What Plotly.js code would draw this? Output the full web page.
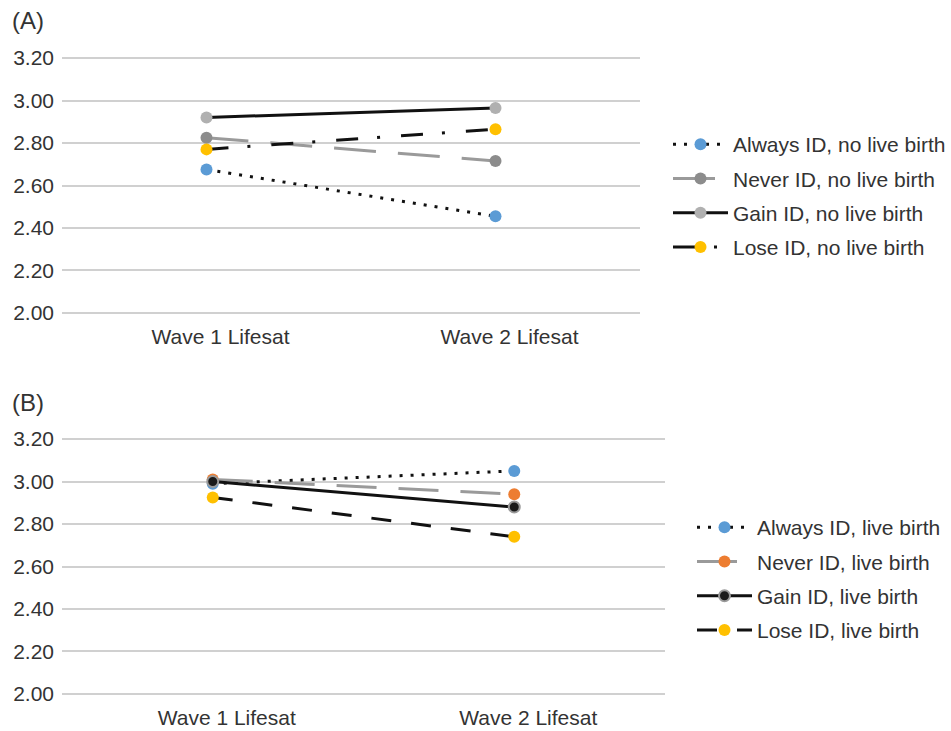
<!DOCTYPE html>
<html>
<head>
<meta charset="utf-8">
<script src="https://cdn.plot.ly/plotly-3.0.1.min.js"></script>
<style>html,body{margin:0;padding:0;background:#fff;}#chart{width:951px;height:731px;}</style>
</head>
<body>
<div id="chart"></div>
<script>
// ---- data ----
var waves = ["Wave 1 Lifesat", "Wave 2 Lifesat"];
var yTicks = [2.00, 2.20, 2.40, 2.60, 2.80, 3.00, 3.20];
var yTickLabels = ["2.00", "2.20", "2.40", "2.60", "2.80", "3.00", "3.20"];

var namesA = ["Always ID, no live birth", "Never ID, no live birth", "Gain ID, no live birth", "Lose ID, no live birth"];
var alwaysA = [2.675, 2.455];
var neverA  = [2.825, 2.715];
var gainA   = [2.92, 2.965];
var loseA   = [2.77, 2.865];

var namesB = ["Always ID, live birth", "Never ID, live birth", "Gain ID, live birth", "Lose ID, live birth"];
var alwaysB = [2.99, 3.05];
var neverB  = [3.01, 2.94];
var gainB   = [3.00, 2.88];
var loseB   = [2.925, 2.74];

// ---- styles ----
var W = 951, H = 731;
function px2x(p){ return p / W; }
function px2y(p){ return (H - p) / H; }

var xIdx = [0, 1];
function tr(vals, name, xa, ya, leg, grp, line, marker){
  return {
    x: xIdx, y: vals, name: name, type: 'scatter', mode: 'lines+markers',
    xaxis: xa, yaxis: ya, legend: leg, legendgroup: grp,
    line: line, marker: marker, hoverinfo: 'skip'
  };
}
var blue = '#5B9BD5', orange = '#ED7D31', yellow = '#FFC000';

var data = [
  tr(alwaysA, namesA[0], 'x', 'y', 'legend', 'a1', {color:'#111', width:3, dash:'3px,8px'}, {color: blue, size: 12}),
  tr(neverA,  namesA[1], 'x', 'y', 'legend', 'a2', {color:'#9a9a9a', width:3, dash:'42px,22px'}, {color: '#8c8c8c', size: 12}),
  tr(gainA,   namesA[2], 'x', 'y', 'legend', 'a3', {color:'#111', width:3}, {color: '#b0b0b0', size: 12}),
  tr(loseA,   namesA[3], 'x', 'y', 'legend', 'a4', {color:'#111', width:3, dash:'22px,19px,3px,21px'}, {color: yellow, size: 12}),
  tr(alwaysB, namesB[0], 'x2', 'y2', 'legend2', 'b1', {color:'#111', width:3, dash:'3px,8px'}, {color: blue, size: 12}),
  tr(neverB,  namesB[1], 'x2', 'y2', 'legend2', 'b2', {color:'#9a9a9a', width:3, dash:'40px,22px'}, {color: orange, size: 12}),
  tr(gainB,   namesB[2], 'x2', 'y2', 'legend2', 'b3', {color:'#111', width:3}, {color: '#1a1a1a', size: 11, line:{color:'#9a9a9a', width:2}}),
  tr(loseB,   namesB[3], 'x2', 'y2', 'legend2', 'b4', {color:'#111', width:3, dash:'20px,20px'}, {color: yellow, size: 12})
];

var fontFam = '"Liberation Sans", Arial, Helvetica, sans-serif';
var tickFont = {family: fontFam, size: 21, color: '#333'};

function xax(domain){
  return {
    domain: domain, range: [-0.5, 1.5], tickmode: 'array', tickvals: xIdx, ticktext: waves,
    showgrid: false, zeroline: false, showline: false, ticks: '',
    tickfont: tickFont, ticklabelstandoff: 7, ticklabelshift: 14, fixedrange: true
  };
}
function yax(domain, anchor){
  return {
    domain: domain, range: [1.99, 3.21], tickmode: 'array', tickvals: yTicks, ticktext: yTickLabels,
    showgrid: true, gridcolor: '#d0d0d0', gridwidth: 2, zeroline: false, showline: false, ticks: '',
    tickfont: tickFont, ticklabelstandoff: 7, anchor: anchor, fixedrange: true
  };
}

var legFont = {family: fontFam, size: 21, color: '#333'};
var layout = {
  width: W, height: H,
  margin: {l: 0, r: 0, t: 0, b: 0},
  paper_bgcolor: '#fff', plot_bgcolor: 'rgba(0,0,0,0)',
  font: {family: fontFam, color: '#333'},
  xaxis: Object.assign(xax([px2x(62), px2x(640)]), {anchor: 'y'}),
  yaxis: yax([px2y(315.1), px2y(55.9)], 'x'),
  xaxis2: Object.assign(xax([px2x(62), px2x(665)]), {anchor: 'y2'}),
  yaxis2: yax([px2y(696.1), px2y(436.9)], 'x2'),
  showlegend: true,
  legend: {
    x: px2x(668), y: px2y(124), xanchor: 'left', yanchor: 'top',
    traceorder: 'grouped', tracegroupgap: 4, itemwidth: 55,
    font: legFont, bgcolor: 'rgba(0,0,0,0)'
  },
  legend2: {
    x: px2x(692), y: px2y(507), xanchor: 'left', yanchor: 'top',
    traceorder: 'grouped', tracegroupgap: 4, itemwidth: 55,
    font: legFont, bgcolor: 'rgba(0,0,0,0)'
  },
  annotations: [
    {text: '(A)', xref: 'paper', yref: 'paper', x: px2x(10), y: px2y(21), xanchor: 'left', yanchor: 'middle',
     showarrow: false, font: {family: fontFam, size: 24, color: '#333'}},
    {text: '(B)', xref: 'paper', yref: 'paper', x: px2x(10), y: px2y(402), xanchor: 'left', yanchor: 'middle',
     showarrow: false, font: {family: fontFam, size: 24, color: '#333'}}
  ]
};

Plotly.newPlot('chart', data, layout, {displayModeBar: false, staticPlot: true});
</script>
</body>
</html>
